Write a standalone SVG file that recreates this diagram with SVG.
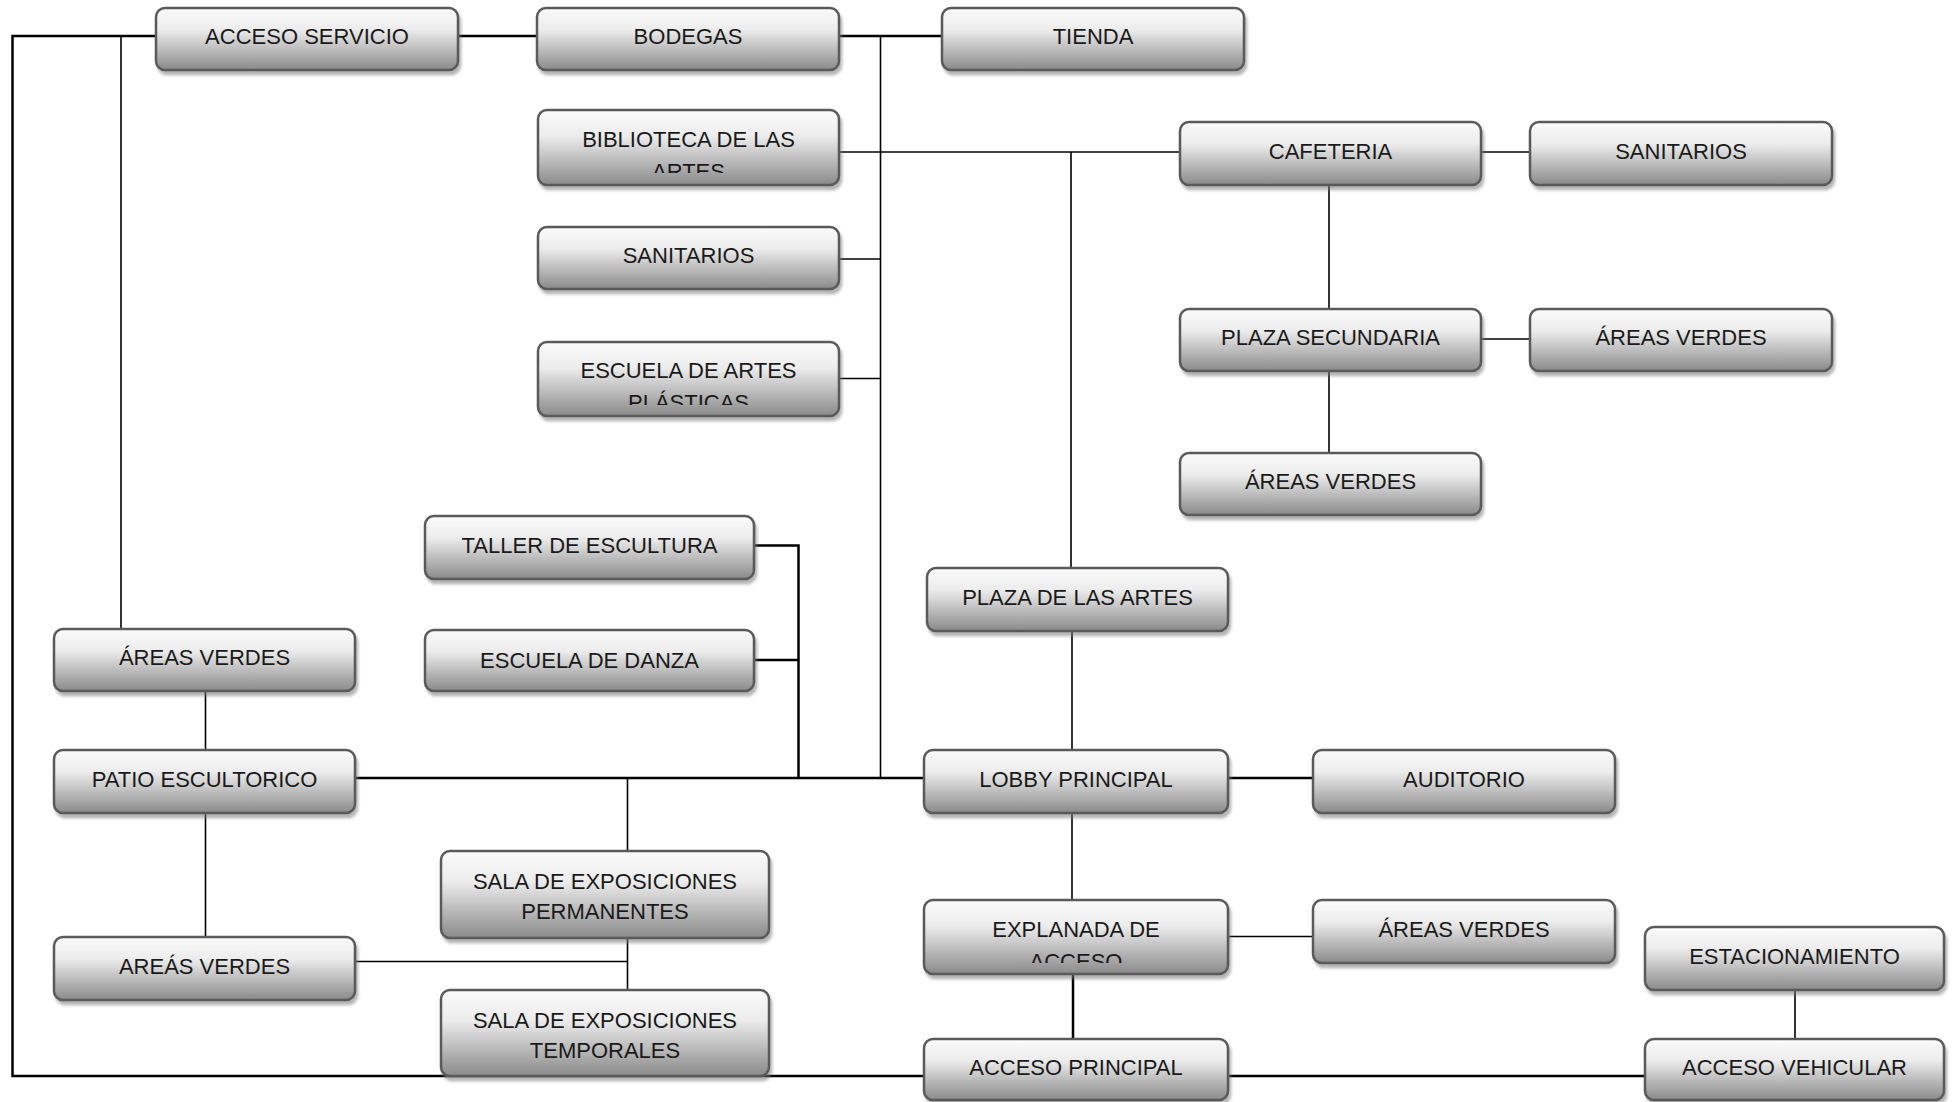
<svg xmlns="http://www.w3.org/2000/svg" width="1953" height="1102" viewBox="0 0 1953 1102">
<defs>
<linearGradient id="g" x1="0" y1="0" x2="0" y2="1">
<stop offset="0" stop-color="#fbfbfb"/>
<stop offset="0.35" stop-color="#ececec"/>
<stop offset="1" stop-color="#8a8a8a"/>
</linearGradient>
<filter id="sh" x="-5%" y="-10%" width="115%" height="130%">
<feDropShadow dx="2" dy="4" stdDeviation="1.5" flood-color="#777" flood-opacity="0.55"/>
</filter>
<clipPath id="cBib"><rect x="538" y="110" width="301" height="63"/></clipPath>
<clipPath id="cEsc"><rect x="538" y="341" width="301" height="64"/></clipPath>
<clipPath id="cExp"><rect x="924" y="900" width="304" height="63"/></clipPath>
</defs>
<style>
.b{fill:url(#g);stroke:#5a5a5a;stroke-width:2.5;filter:url(#sh)}
.t{font-family:"Liberation Sans",Arial,sans-serif;font-size:22px;fill:#1a1a1a;text-anchor:middle}
.k{fill:none;stroke:#000;stroke-width:2.5}
.n{fill:none;stroke:#000;stroke-width:1.6}
</style>
<rect width="1953" height="1102" fill="#fff"/>
<g id="connectors">
<path class="k" d="M156,36 H12.5 V1076 H924"/>
<path class="n" d="M121,36 V629"/>
<path class="k" d="M458,36 H537"/>
<path class="k" d="M839,36 H942"/>
<path class="n" d="M880.5,36 V778"/>
<path class="n" d="M839,152 H1180"/>
<path class="n" d="M839,259 H881"/>
<path class="n" d="M839,378.5 H881"/>
<path class="n" d="M1071,152 V568"/>
<path class="n" d="M1481,152 H1530"/>
<path class="n" d="M1329,185 V309"/>
<path class="n" d="M1481,339 H1530"/>
<path class="n" d="M1329,371 V453"/>
<path class="k" d="M753,545.5 H798.5 V778"/>
<path class="k" d="M753,660 H798.5"/>
<path class="k" d="M355,778 H924"/>
<path class="n" d="M627.5,778 V851"/>
<path class="n" d="M627.5,938 V990"/>
<path class="n" d="M355,961.5 H627.5"/>
<path class="n" d="M1072,631 V750"/>
<path class="n" d="M1072,813 V900"/>
<path class="k" d="M1073,974 V1039"/>
<path class="k" d="M1228,778 H1313"/>
<path class="n" d="M1228,936.5 H1313"/>
<path class="n" d="M1795,990 V1039"/>
<path class="k" d="M1228,1076 H1645"/>
<path class="n" d="M205.5,691 V750"/>
<path class="n" d="M205.5,813 V937"/>
</g>
<g id="n-acceso-servicio"><rect class="b" x="156" y="8" width="302" height="62" rx="9"/><text class="t" x="307" y="44">ACCESO SERVICIO</text></g>
<g id="n-bodegas"><rect class="b" x="537" y="8" width="302" height="62" rx="9"/><text class="t" x="688" y="44">BODEGAS</text></g>
<g id="n-tienda"><rect class="b" x="942" y="8" width="302" height="62" rx="9"/><text class="t" x="1093" y="44">TIENDA</text></g>
<g id="n-biblioteca"><rect class="b" x="538" y="110" width="301" height="75" rx="9"/><g clip-path="url(#cBib)"><text class="t" x="688.5" y="147">BIBLIOTECA DE LAS</text><text class="t" x="688.5" y="178.5">ARTES</text></g></g>
<g id="n-sanitarios-1"><rect class="b" x="538" y="227" width="301" height="62" rx="9"/><text class="t" x="688.5" y="263">SANITARIOS</text></g>
<g id="n-escuela-artes"><rect class="b" x="538" y="342" width="301" height="74" rx="9"/><g clip-path="url(#cEsc)"><text class="t" x="688.5" y="378">ESCUELA DE ARTES</text><text class="t" x="688.5" y="409.5">PLÁSTICAS</text></g></g>
<g id="n-cafeteria"><rect class="b" x="1180" y="122" width="301" height="63" rx="9"/><text class="t" x="1330.5" y="159">CAFETERIA</text></g>
<g id="n-sanitarios-2"><rect class="b" x="1530" y="122" width="302" height="63" rx="9"/><text class="t" x="1681" y="159">SANITARIOS</text></g>
<g id="n-plaza-secundaria"><rect class="b" x="1180" y="309" width="301" height="62" rx="9"/><text class="t" x="1330.5" y="345">PLAZA SECUNDARIA</text></g>
<g id="n-areas-verdes-1"><rect class="b" x="1530" y="309" width="302" height="62" rx="9"/><text class="t" x="1681" y="345">ÁREAS VERDES</text></g>
<g id="n-areas-verdes-2"><rect class="b" x="1180" y="453" width="301" height="62" rx="9"/><text class="t" x="1330.5" y="489">ÁREAS VERDES</text></g>
<g id="n-taller"><rect class="b" x="425" y="516" width="329" height="63" rx="9"/><text class="t" x="589.5" y="553">TALLER DE ESCULTURA</text></g>
<g id="n-danza"><rect class="b" x="425" y="630" width="329" height="61" rx="9"/><text class="t" x="589.5" y="668">ESCUELA DE DANZA</text></g>
<g id="n-plaza-artes"><rect class="b" x="927" y="568" width="301" height="63" rx="9"/><text class="t" x="1077.5" y="605">PLAZA DE LAS ARTES</text></g>
<g id="n-areas-verdes-3"><rect class="b" x="54" y="629" width="301" height="62" rx="9"/><text class="t" x="204.5" y="665">ÁREAS VERDES</text></g>
<g id="n-patio"><rect class="b" x="54" y="750" width="301" height="63" rx="9"/><text class="t" x="204.5" y="787">PATIO ESCULTORICO</text></g>
<g id="n-lobby"><rect class="b" x="924" y="750" width="304" height="63" rx="9"/><text class="t" x="1076" y="787">LOBBY PRINCIPAL</text></g>
<g id="n-auditorio"><rect class="b" x="1313" y="750" width="302" height="63" rx="9"/><text class="t" x="1464" y="787">AUDITORIO</text></g>
<g id="n-sala-perm"><rect class="b" x="441" y="851" width="328" height="87" rx="9"/><text class="t" x="605" y="889">SALA DE EXPOSICIONES</text><text class="t" x="605" y="919">PERMANENTES</text></g>
<g id="n-areas-verdes-4"><rect class="b" x="54" y="937" width="301" height="63" rx="9"/><text class="t" x="204.5" y="974">AREÁS VERDES</text></g>
<g id="n-sala-temp"><rect class="b" x="441" y="990" width="328" height="86" rx="9"/><text class="t" x="605" y="1028">SALA DE EXPOSICIONES</text><text class="t" x="605" y="1058">TEMPORALES</text></g>
<g id="n-explanada"><rect class="b" x="924" y="900" width="304" height="74" rx="9"/><g clip-path="url(#cExp)"><text class="t" x="1076" y="937">EXPLANADA DE</text><text class="t" x="1076" y="968.5">ACCESO</text></g></g>
<g id="n-areas-verdes-5"><rect class="b" x="1313" y="900" width="302" height="63" rx="9"/><text class="t" x="1464" y="937">ÁREAS VERDES</text></g>
<g id="n-estacionamiento"><rect class="b" x="1645" y="927" width="299" height="63" rx="9"/><text class="t" x="1794.5" y="964">ESTACIONAMIENTO</text></g>
<g id="n-acceso-principal"><rect class="b" x="924" y="1039" width="304" height="61" rx="9"/><text class="t" x="1076" y="1075">ACCESO PRINCIPAL</text></g>
<g id="n-acceso-vehicular"><rect class="b" x="1645" y="1039" width="299" height="61" rx="9"/><text class="t" x="1794.5" y="1075">ACCESO VEHICULAR</text></g>
</svg>
